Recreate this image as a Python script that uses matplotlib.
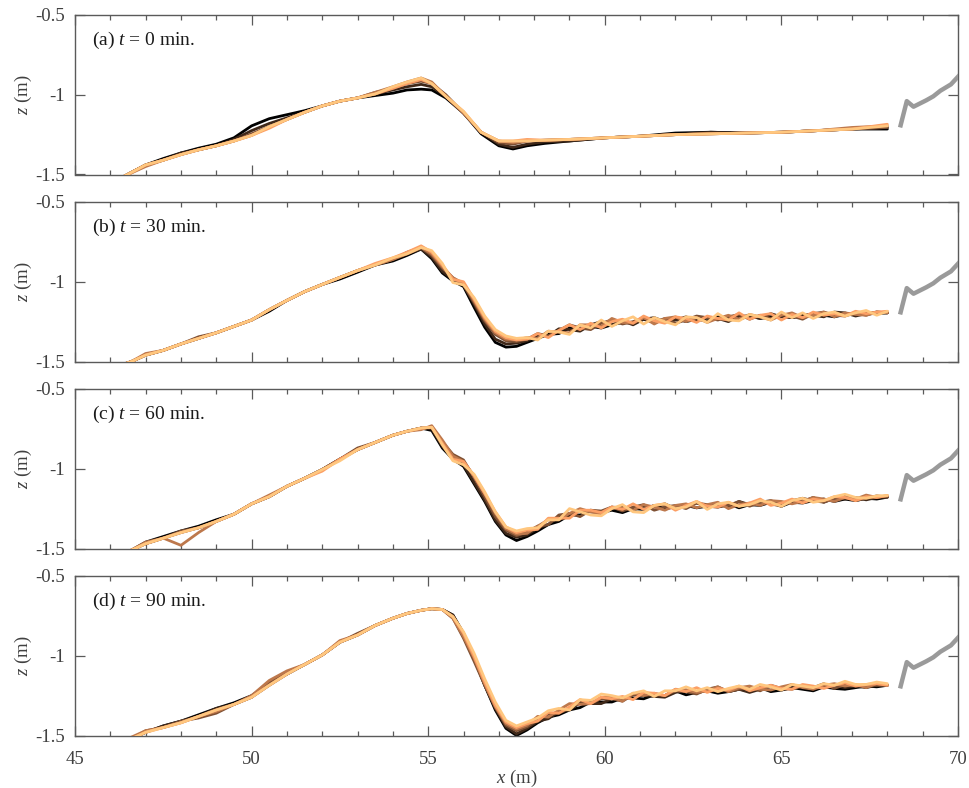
import numpy as np
import matplotlib
matplotlib.use("Agg")
import matplotlib.pyplot as plt
from matplotlib.ticker import MultipleLocator, FixedLocator, FixedFormatter

plt.rcParams['font.family'] = ['Liberation Serif', 'DejaVu Serif']
plt.rcParams['mathtext.fontset'] = 'custom'
plt.rcParams['mathtext.rm'] = 'Liberation Serif'
plt.rcParams['mathtext.it'] = 'Liberation Serif:italic'

# ---------------- data ----------------
panel_labels = [r"(a) $t$ = 0 min.", r"(b) $t$ = 30 min.", r"(c) $t$ = 60 min.", r"(d) $t$ = 90 min."]
ytick_vals = [-1.5, -1.0, -0.5]
ytick_text = ["-1.5", "-1", "-0.5"]
xtick_vals = [45, 50, 55, 60, 65, 70]
xtick_text = ["45", "50", "55", "60", "65", "70"]

# grey (wavemaker / end) profile
grey_x = [68.36, 68.55, 68.74, 69.1, 69.3, 69.5, 69.8, 70.05]
grey_z = [-1.205, -1.04, -1.075, -1.035, -1.01, -0.975, -0.935, -0.875]

# panel (a) grid, base profile (m) and per-line deviations (cm)
x_a = [46.4, 47.0, 47.5, 48.0, 48.5, 49.0, 49.5, 50.0, 50.5, 51.0, 51.5, 52.0,
       52.5, 53.0, 53.5, 54.0, 54.4, 54.8, 55.1, 55.5, 56.0, 56.5, 57.0, 57.4,
       57.8, 58.3, 59.0, 60.0, 61.0, 62.0, 63.0, 64.0, 65.0, 66.0, 67.0, 68.0]
base_a = [-1.51, -1.44, -1.41, -1.375, -1.345, -1.32, -1.29, -1.245, -1.20, -1.155, -1.11, -1.07,
          -1.04, -1.02, -0.995, -0.96, -0.93, -0.905, -0.93, -1.01, -1.115, -1.235, -1.29, -1.30,
          -1.29, -1.285, -1.28, -1.27, -1.26, -1.25, -1.245, -1.24, -1.235, -1.225, -1.215, -1.205]
dz_a = [
    [0,0,1,1,1,1, 2,5,5,3,1,0, 0,0,-1,-3,-4,-6, -4,-1,0,-1,-3,-4, -3,-2,-1,0,0,1, 1,0,0,0,0,-1],
    [0,0,0,1,0,0, 1,2,2,1,0,0, 0,0,0,-1,-2,-3, -2,0,0,0,-2,-3, -2,-1,-1,0,0,0, 1,0,0,0,0,0],
    [0,0,0,0,0,0, 0,0,0,0,0,0, 0,0,1,0,0,-1, 0,1,0,0,-1,-1, 0,0,0,0,0,0, 0,0,0,0,0,0],
    [0,-1,0,0,0,0, 0,-1,0,0,0,0, 0,0,1,1,1,1, 1,0,0,0,0,0, 0,0,0,0,0,0, 0,0,0,0,1,1],
    [0,0,0,0,0,0, 0,-1,-1,0,0,0, 0,0,0,0,0,0, 0,0,1,0,0,1, 1,0,0,0,0,0, 0,0,0,0,0,2],
    [0,0,0,0,0,0, 0,-1,0,0,0,0, 0,0,0,1,1,1, 0,0,1,0,0,1, 0,0,0,0,0,0, 0,0,0,0,0,1],
]

# shared grid for panels (b)-(d)
x_bcd = [46.2, 46.6, 47.0, 47.5, 48.0, 48.5, 49.0, 49.5, 50.0, 50.5, 51.0, 51.5, 52.0, 52.5,
         53.0, 53.5, 54.0, 54.4, 54.8, 55.1, 55.4, 55.7, 56.0, 56.3, 56.6, 56.9, 57.2, 57.5,
         57.8, 58.1, 58.4, 58.7, 59.0, 59.3, 59.6, 59.9, 60.2, 60.5, 60.8, 61.1, 61.4, 61.7,
         62.0, 62.3, 62.6, 62.9, 63.2, 63.5, 63.8, 64.1, 64.4, 64.7, 65.0, 65.3, 65.6, 65.9,
         66.2, 66.5, 66.8, 67.1, 67.4, 67.7, 68.0]

base_b = [-1.53, -1.50, -1.46, -1.43, -1.39, -1.355, -1.32, -1.28, -1.24, -1.175, -1.117, -1.062, -1.017, -0.973,
          -0.93, -0.895, -0.86, -0.825, -0.785, -0.835, -0.925, -0.975, -1.02, -1.13, -1.245, -1.33, -1.37, -1.375,
          -1.36, -1.345, -1.33, -1.315, -1.30, -1.29, -1.28, -1.27, -1.26, -1.255, -1.25, -1.245, -1.245, -1.24,
          -1.24, -1.24, -1.235, -1.235, -1.23, -1.23, -1.225, -1.225, -1.22, -1.22, -1.22, -1.215, -1.215, -1.21,
          -1.21, -1.21, -1.205, -1.205, -1.20, -1.20, -1.195]
dz_b = [
    [0,0,0,0,0,0,0,0,0,-1,0,0,0,-1,-1,0,-1,-1,-1,-2,-2,-2,-1,-3,-4,-5,-4,-3,
     -2,-1,0,-1,1,-1,0,-2,-1,0,-1,1,-1,0,1,-1,0,-1,1,0,-1,1,-1,0,1,-1,0,1,0,-1,0,1,0,0,0],
    [0,0,0,0,0,0,0,0,0,0,0,0,0,0,0,0,0,0,-1,-1,-1,-1,0,-1,-2,-3,-2,-1,
     -1,1,-1,2,0,-2,1,2,-1,1,-2,1,2,-1,0,2,-1,1,0,-2,1,1,-1,2,0,-1,1,0,-1,2,1,-1,0,1,0],
    [0,0,0,0,0,1,0,0,0,0,0,0,0,0,0,0,0,1,0,0,1,0,0,0,0,0,0,0,
     0,2,-1,1,3,0,-2,1,2,-1,0,2,-1,1,-2,0,2,1,-1,1,2,-1,1,-1,2,0,-2,1,2,0,-1,1,-1,1,0],
    [0,0,1,0,0,0,0,0,0,0,0,0,0,0,0,0,0,0,0,1,2,0,1,1,1,1,1,1,
     1,-1,2,0,-2,2,1,-1,3,0,-1,2,-2,1,2,-1,1,-2,0,2,-1,2,0,-2,1,2,-1,0,2,-1,1,0,-1,1,0],
    [0,0,0,0,0,0,0,0,0,0,0,0,0,0,0,1,1,1,1,2,3,-1,2,2,2,2,2,1,
     0,2,-2,1,3,-1,2,-2,1,2,-1,3,0,-2,2,1,-2,2,0,-1,3,-1,1,2,-2,1,-1,2,0,1,-1,2,0,1,1],
    [0,0,0,0,0,0,0,0,0,0,0,0,0,0,0,0,1,0,0,3,4,-3,0,3,3,3,3,2,
     1,-2,2,0,-3,2,-1,3,-2,1,3,-2,2,-1,-3,2,1,-2,3,-1,-2,2,0,-2,3,-1,2,-2,1,2,-1,1,2,-1,1],
]

base_c = [-1.55, -1.51, -1.47, -1.435, -1.40, -1.37, -1.33, -1.285, -1.22, -1.175, -1.11, -1.06, -1.005, -0.94,
          -0.88, -0.835, -0.79, -0.765, -0.745, -0.75, -0.85, -0.92, -0.965, -1.065, -1.175, -1.30, -1.385, -1.41,
          -1.395, -1.37, -1.34, -1.31, -1.29, -1.28, -1.27, -1.265, -1.26, -1.255, -1.25, -1.245, -1.24, -1.24,
          -1.24, -1.24, -1.235, -1.235, -1.23, -1.23, -1.225, -1.225, -1.22, -1.22, -1.215, -1.21, -1.205, -1.20,
          -1.20, -1.195, -1.19, -1.19, -1.185, -1.18, -1.178]
dz_c = [
    [0,0,1,1,1,1,1,0,0,0,0,0,0,0,0,0,0,0,0,-1,-2,-2,-2,-3,-3,-3,-3,-4,
     -3,-2,-1,-2,0,-1,1,-1,0,-2,0,-1,1,-1,0,1,-1,0,-1,1,-2,0,-1,1,-2,0,-1,0,1,-1,0,-1,0,-1,0],
    [0,0,0,0,0,0,0,0,0,0,0,0,0,0,0,0,0,0,0,0,-1,-1,-1,-2,-2,-2,-2,-2,
     -2,0,-1,1,-1,2,0,-1,1,2,-1,1,0,2,-1,1,2,0,1,-1,2,0,1,2,-1,1,0,2,-1,1,0,1,-1,0,0],
    [0,0,0,0,1,0,0,0,0,0,0,0,0,0,1,0,0,0,0,1,2,1,2,1,0,0,0,-1,
     0,1,-1,2,1,-2,1,0,2,-1,1,2,-2,0,1,-1,2,1,-1,0,2,-1,1,0,-2,1,2,0,-1,1,2,-1,0,1,0],
    [0,0,1,0,-8,-3,0,0,0,1,0,0,0,0,0,0,0,0,-1,2,3,0,1,2,2,2,1,0,
     -1,1,2,-1,1,3,0,-2,2,1,-1,2,0,-2,1,2,-1,1,2,-2,0,1,-1,2,1,-1,0,2,1,-1,1,0,2,0,1],
    [0,0,0,0,0,0,0,0,0,0,0,0,-1,0,0,0,0,0,0,1,1,-2,1,2,2,3,2,1,
     1,-1,3,0,-2,2,1,-1,2,0,3,-1,1,2,-2,1,3,0,-1,2,-1,1,3,-1,0,2,-1,1,0,2,1,-1,1,0,1],
    [0,0,0,0,0,0,0,0,0,0,0,0,0,-1,0,0,0,0,0,1,0,-3,-1,3,3,3,2,2,
     2,0,2,-1,4,1,-2,-3,1,3,-2,-3,1,2,-1,0,3,-2,1,2,-1,0,2,1,-2,1,2,-1,0,2,3,1,0,1,1],
]

base_d = [-1.56, -1.52, -1.48, -1.45, -1.42, -1.38, -1.34, -1.305, -1.26, -1.185, -1.115, -1.055, -0.995, -0.915,
          -0.87, -0.81, -0.765, -0.735, -0.715, -0.705, -0.71, -0.755, -0.87, -1.015, -1.175, -1.32, -1.425, -1.46,
          -1.435, -1.40, -1.375, -1.35, -1.33, -1.305, -1.29, -1.28, -1.27, -1.265, -1.255, -1.25, -1.245, -1.24,
          -1.23, -1.225, -1.22, -1.22, -1.215, -1.215, -1.21, -1.21, -1.21, -1.205, -1.205, -1.20, -1.20, -1.20,
          -1.195, -1.195, -1.19, -1.19, -1.19, -1.185, -1.185]
dz_d = [
    [0,0,0,1,1,1,1,1,1,1,0,0,0,0,0,0,0,0,0,0,0,1,1,0,-1,-2,-3,-4,
     -3,-2,-1,-2,-1,-2,0,-1,-2,0,-1,-2,0,-1,1,-2,-1,0,-2,-1,0,-1,1,-2,-1,0,-1,-2,0,-1,-2,-1,0,-1,0],
    [0,0,0,1,1,0,1,0,0,0,0,0,0,0,0,0,0,0,0,0,0,1,1,0,-1,-1,-2,-3,
     -2,-1,-2,0,-1,1,-1,-2,0,-1,1,0,-1,-2,0,1,-1,0,1,-1,0,-2,0,1,-1,0,1,-1,0,1,-1,0,-1,0,0],
    [0,0,1,0,1,-1,-2,0,0,2,1,0,0,0,1,0,0,0,0,0,0,-1,-2,-2,-1,0,-1,-1,
     -1,0,1,-1,0,2,-1,1,0,-2,1,2,0,-1,1,0,-2,1,2,-1,0,1,-1,2,0,-1,1,0,2,-1,1,0,1,0,0],
    [0,1,1,0,0,0,-1,0,1,3,2,0,0,1,0,0,0,0,0,0,0,-1,-1,0,0,0,0,0,
     0,2,-1,1,3,0,-1,2,1,-2,2,0,1,-1,2,1,-1,0,2,-1,1,2,0,-1,1,2,0,-1,1,2,0,1,-1,1,0],
    [0,0,0,0,0,0,0,0,0,0,0,0,0,0,0,0,0,0,0,0,0,0,1,1,1,1,1,1,
     1,-1,2,-1,1,3,-1,2,0,1,-2,2,1,-1,2,0,2,-1,1,0,2,-1,1,2,0,-1,2,1,-1,1,2,0,1,1,0],
    [0,0,0,0,0,0,0,0,0,0,0,0,0,0,0,0,0,0,0,0,0,0,2,3,3,3,2,2,
     2,1,3,2,-1,3,1,4,2,0,2,3,-1,2,1,3,0,2,-1,1,2,0,3,1,-1,2,1,0,2,1,3,1,1,2,1],
]

panels = [(x_a, base_a, dz_a), (x_bcd, base_b, dz_b), (x_bcd, base_c, dz_c), (x_bcd, base_d, dz_d)]

# ---------------- figure ----------------
W, H = 970, 788
fig = plt.figure(figsize=(W / 100, H / 100), dpi=100)

left_px, right_px = 75, 958
tops_px = [15, 202, 389, 576]
height_px = 159.5

spine_col = '#5a5a5a'
tick_col = '#404040'
cmap = plt.get_cmap('copper')

for i, (xs, base, dz) in enumerate(panels):
    top = tops_px[i]
    ax = fig.add_axes([left_px / W, 1 - (top + height_px) / H,
                       (right_px - left_px) / W, height_px / H])
    xs_arr = np.asarray(xs)
    base_arr = np.asarray(base)
    n = len(dz)
    for k, row in enumerate(dz):
        assert len(row) == len(xs), (i, k, len(row), len(xs))
        z = base_arr + np.asarray(row) / 100.0
        ax.plot(xs_arr, z, color=cmap(k / (n - 1)), lw=2.0, solid_joinstyle='round',
                solid_capstyle='round', zorder=2 + k)
    ax.plot(grey_x, grey_z, color='#9a9a9a', lw=3.2, solid_capstyle='butt',
            solid_joinstyle='round', zorder=10)

    ax.set_xlim(45, 70)
    ax.set_ylim(-1.5, -0.5)
    ax.xaxis.set_major_locator(FixedLocator(xtick_vals))
    ax.xaxis.set_minor_locator(MultipleLocator(1))
    ax.yaxis.set_major_locator(FixedLocator(ytick_vals))
    ax.yaxis.set_major_formatter(FixedFormatter(ytick_text))
    ax.tick_params(which='both', direction='in', top=True, right=True,
                   color=spine_col, width=0.9, labelcolor=tick_col, labelsize=13.5)
    ax.tick_params(axis='y', which='major', length=7, pad=7)
    ax.tick_params(axis='x', which='major', length=7, pad=11)
    ax.tick_params(which='minor', length=3.6)
    for s in ax.spines.values():
        s.set_color(spine_col)
        s.set_linewidth(1.0)
    if i < 3:
        ax.set_xticklabels([])
    else:
        ax.xaxis.set_major_formatter(FixedFormatter(xtick_text))
        ax.set_xlabel(r"$x$ (m)", fontsize=13.5, color=tick_col, labelpad=0)
    ax.set_ylabel(r"$z$ (m)", fontsize=13.5, color=tick_col, labelpad=1)
    ax.text(0.019, 0.84, panel_labels[i], transform=ax.transAxes, fontsize=14,
            color='#1a1a1a', va='center', ha='left')

fig.savefig("out.png", dpi=100)
